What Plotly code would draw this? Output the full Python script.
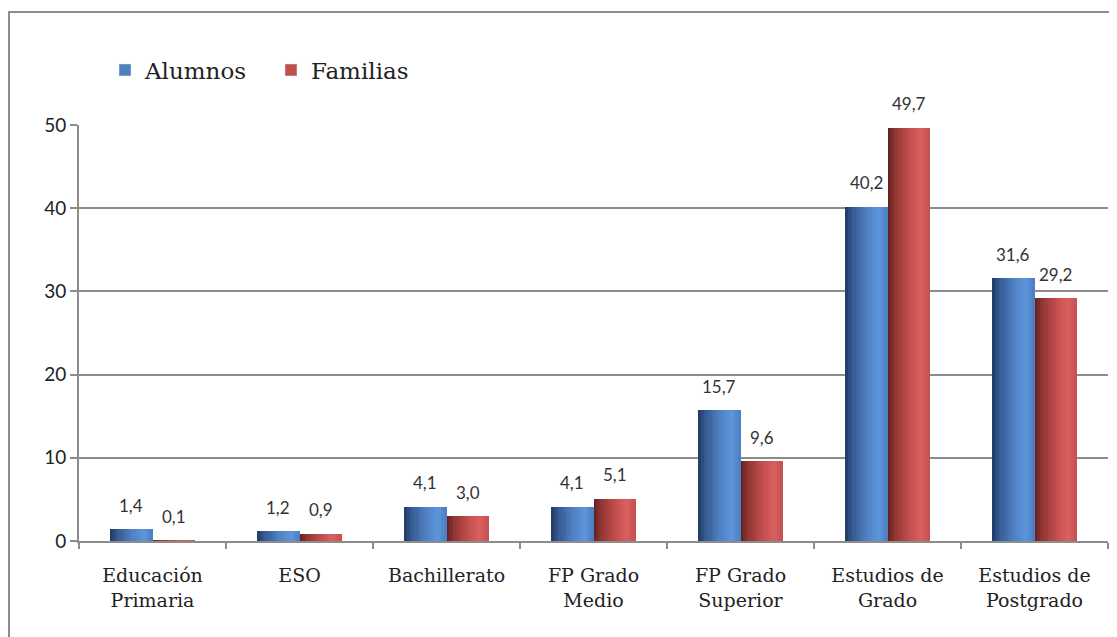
import plotly.graph_objects as go
from plotly.colors import hex_to_rgb

# data
categories = ["Educación<br>Primaria", "ESO", "Bachillerato", "FP Grado<br>Medio",
              "FP Grado<br>Superior", "Estudios de<br>Grado", "Estudios de<br>Postgrado"]
alumnos = [1.4, 1.2, 4.1, 4.1, 15.7, 40.2, 31.6]
familias = [0.1, 0.9, 3.0, 5.1, 9.6, 49.7, 29.2]
y_ticks = [0, 10, 20, 30, 40, 50]

# page body adds an 8px offset, so the figure is drawn 8px smaller
W, H = 1109, 629
ML, MR, MT, MB = 71, 9, 117, 96
BAR_W = 0.286
N_STRIPS = 16

blue_stops = [(0, "#1f3a63"), (0.15, "#34588f"), (0.5, "#4f80c2"), (0.8, "#5d95dc"), (1, "#4b7dc0")]
red_stops = [(0, "#5e1f1f"), (0.15, "#8a3331"), (0.5, "#c04d4c"), (0.8, "#da605f"), (1, "#c25150")]


def shade(stops, t):
    for (t0, c0), (t1, c1) in zip(stops[:-1], stops[1:]):
        if t0 <= t <= t1:
            f = (t - t0) / (t1 - t0)
            a, b = hex_to_rgb(c0), hex_to_rgb(c1)
            return "rgb(%d,%d,%d)" % tuple(round(a[i] + (b[i] - a[i]) * f) for i in range(3))
    return stops[-1][1]


def fmt(v):
    return f"{v:.1f}".replace(".", ",")


pw = W - ML - MR
ph = H - MT - MB
cat_px = pw / len(categories)

fig = go.Figure()

for values, stops, base in [(alumnos, blue_stops, -BAR_W), (familias, red_stops, 0)]:
    sw = BAR_W / N_STRIPS
    for k in range(N_STRIPS):
        fig.add_trace(go.Bar(x=categories, y=values, offset=base + k * sw, width=sw * 1.02,
                             marker=dict(color=shade(stops, (k + 0.5) / N_STRIPS), line=dict(width=0)),
                             showlegend=False, hoverinfo="skip"))
    # data labels, shifted over the centre of each bar
    for cat, v in zip(categories, values):
        fig.add_annotation(x=cat, y=v, text=fmt(v), showarrow=False,
                           xshift=(base + BAR_W / 2) * cat_px, yshift=24, yanchor="middle",
                           font=dict(family="Lato", size=17, color="#333333"))

# legend entries
fig.add_trace(go.Bar(x=[None], y=[None], name="Alumnos", marker_color="#4f81bd"))
fig.add_trace(go.Bar(x=[None], y=[None], name="Familias", marker_color="#c0504d"))

# outer chart border
fig.add_shape(type="path", xref="paper", yref="paper",
              path=f"M {(1 - ML) / pw},{-(H + 10 - MT - ph) / ph} L {(1 - ML) / pw},{(MT - 4 + ph) / ph} "
                   f"L {(W + 10 - ML) / pw},{(MT - 4 + ph) / ph}",
              line=dict(color="#8c8c8c", width=2))

fig.update_layout(
    width=W, height=H,
    margin=dict(l=ML, r=MR, t=MT, b=MB, autoexpand=False),
    paper_bgcolor="white", plot_bgcolor="white",
    barmode="overlay", bargap=0,
    legend=dict(orientation="h", x=(97 - ML) / pw, y=(MT + ph - 62) / ph, yanchor="middle", xanchor="left",
                font=dict(family="DejaVu Serif", size=23, color="#222222"),
                entrywidth=121, entrywidthmode="pixels"),
    xaxis=dict(type="category", tickson="boundaries", ticks="outside", ticklen=6, tickwidth=2,
               tickcolor="#8c8c8c", showline=True, linecolor="#8c8c8c", linewidth=2,
               tickfont=dict(family="DejaVu Serif", size=19, color="#222222"),
               ticklabelstandoff=16, range=[-0.5, 6.5]),
    yaxis=dict(range=[0, 50], tickvals=y_ticks, ticks="outside", ticklen=7, tickwidth=2,
               tickcolor="#8c8c8c", showline=True, linecolor="#8c8c8c", linewidth=2,
               showgrid=True, gridcolor="#8c8c8c", gridwidth=2, zeroline=False,
               tickfont=dict(family="Lato", size=19, color="#222222")),
)

fig.write_html("out.html")
